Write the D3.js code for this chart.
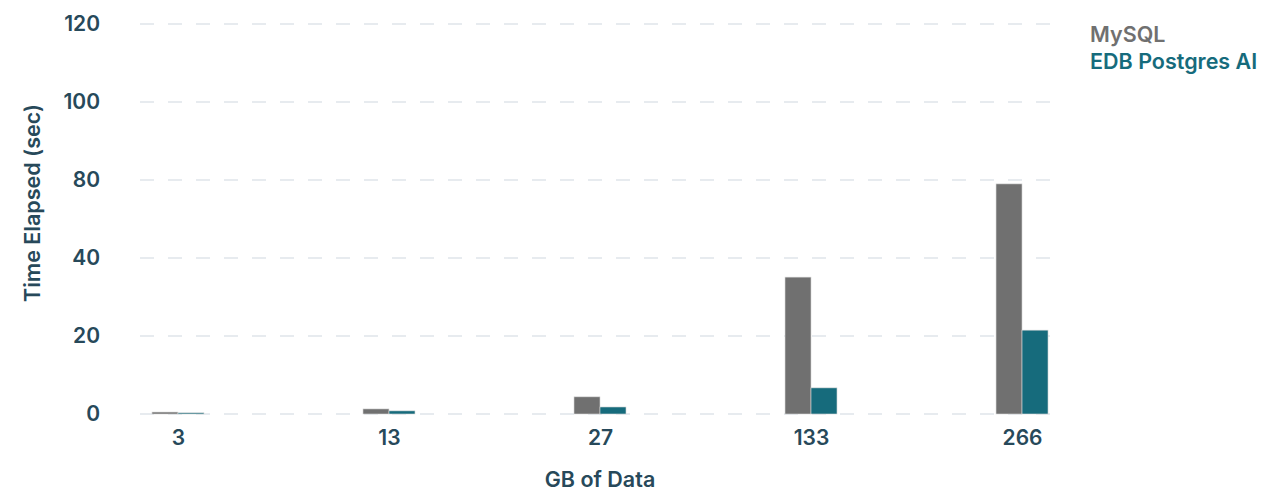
<!DOCTYPE html>
<html>
<head>
<meta charset="utf-8">
<script src="https://cdn.jsdelivr.net/npm/d3@7"></script>
<style>
  body { margin: 0; background: #fff; }
  text { font-family: Inter, "Noto Sans", sans-serif; font-weight: 600; }
</style>
</head>
<body>
<svg id="chart" width="1272" height="492"></svg>
<script>
// data
const categories = ["3", "13", "27", "133", "266"];
const seriesNames = ["MySQL", "EDB Postgres AI"];
const mysqlValues = [0.5, 1.3, 4.4, 35.1, 59.0];
const edbValues = [0.3, 0.8, 1.8, 6.7, 21.5];
const yTickLabels = ["0", "20", "40", "80", "100", "120"]; // as printed on the chart

const colors = ["#707070", "#166b7c"];
const textColor = "#27495a";

const margin = { top: 24, right: 212, bottom: 78, left: 140 };
const width = 1272 - margin.left - margin.right;
const height = 492 - margin.top - margin.bottom;

const svg = d3.select("#chart");
const g = svg.append("g")
  .attr("transform", "translate(" + margin.left + "," + margin.top + ")");

const x = d3.scalePoint().domain(categories).range([0, width]).padding(0.18);
const xInner = d3.scaleBand().domain(seriesNames).range([-26, 26]);
const y = d3.scaleLinear().domain([0, 100]).range([height, 0]);
const yTicks = d3.range(0, 101, 20);

// gridlines
g.append("g")
  .selectAll("line")
  .data(yTicks)
  .enter()
  .append("line")
  .attr("x1", 0)
  .attr("x2", width)
  .attr("y1", d => y(d))
  .attr("y2", d => y(d))
  .attr("stroke", "#dfe5ea")
  .attr("stroke-width", 1.5)
  .attr("stroke-dasharray", "14,14");

// y axis
const yAxis = g.append("g")
  .call(d3.axisLeft(y).tickValues(yTicks).tickSize(0).tickPadding(40)
    .tickFormat((d, i) => yTickLabels[i]));
yAxis.select(".domain").remove();
yAxis.selectAll("text").attr("fill", textColor).style("font-size", "21px");

// x axis
const xAxis = g.append("g")
  .attr("transform", "translate(0," + height + ")")
  .call(d3.axisBottom(x).tickSize(0).tickPadding(16));
xAxis.select(".domain").remove();
xAxis.selectAll("text").attr("fill", textColor).style("font-size", "21px");

// bars
const rows = categories.map((c, i) => ({ cat: c, values: [mysqlValues[i], edbValues[i]] }));
const groups = g.selectAll(".grp")
  .data(rows)
  .enter()
  .append("g")
  .attr("class", "grp")
  .attr("transform", d => "translate(" + x(d.cat) + ",0)");

groups.selectAll("rect")
  .data(d => d.values.map((v, j) => ({ name: seriesNames[j], value: v, j: j })))
  .enter()
  .append("rect")
  .attr("x", d => xInner(d.name))
  .attr("width", xInner.bandwidth())
  .attr("y", d => y(d.value))
  .attr("height", d => y(0) - y(d.value))
  .attr("fill", d => colors[d.j])
  .attr("stroke", "#d8d8d8")
  .attr("stroke-width", 0.6);

// axis titles
svg.append("text")
  .attr("transform", "translate(40,203) rotate(-90)")
  .attr("text-anchor", "middle")
  .attr("fill", textColor)
  .style("font-size", "21.5px")
  .text("Time Elapsed (sec)");

svg.append("text")
  .attr("x", 600)
  .attr("y", 487)
  .attr("text-anchor", "middle")
  .attr("fill", textColor)
  .style("font-size", "21.5px")
  .text("GB of Data");

// legend
svg.append("g")
  .selectAll("text")
  .data(seriesNames)
  .enter()
  .append("text")
  .attr("x", 1090)
  .attr("y", (d, i) => 42 + i * 27)
  .attr("fill", (d, i) => colors[i])
  .style("font-size", "21.5px")
  .text(d => d);
</script>
</body>
</html>
